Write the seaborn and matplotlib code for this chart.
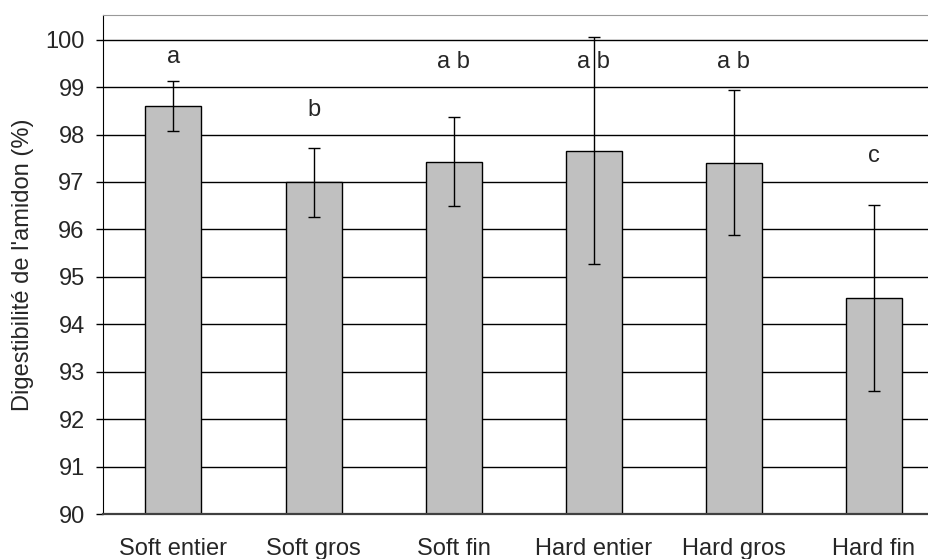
import pandas as pd
import matplotlib.pyplot as plt
import seaborn as sns

# values
categories = ['Soft entier', 'Soft gros', 'Soft fin', 'Hard entier', 'Hard gros', 'Hard fin']
digestibility = [98.60, 96.99, 97.43, 97.66, 97.41, 94.56]
std_dev = [0.52, 0.73, 0.94, 2.40, 1.53, 1.96]
letters = ['a', 'b', 'a b', 'a b', 'a b', 'c']
letter_y = [99.63, 98.51, 99.53, 99.53, 99.53, 97.54]

df = pd.DataFrame({'traitement': categories, 'digest': digestibility, 'sd': std_dev})

sns.set_style('white')
plt.rcParams['font.family'] = ['Liberation Sans', 'DejaVu Sans']

fig = plt.figure(figsize=(9.29, 5.59), dpi=100)
ax = fig.add_axes([0.1114, 0.0805, 0.8886, 0.8927])

sns.barplot(data=df, x='traitement', y='digest', color='#C0C0C0', edgecolor='black',
            linewidth=1, width=0.4, errorbar=None, saturation=1, ax=ax)
ax.errorbar(range(len(categories)), df['digest'], yerr=df['sd'], fmt='none',
            ecolor='black', elinewidth=1, capsize=4, capthick=1, zorder=5)

for i, (lab, yy) in enumerate(zip(letters, letter_y)):
    ax.text(i, yy, lab, ha='center', va='center', fontsize=17, zorder=6)

ax.set_ylim(90, 100.52)
ax.set_xlim(-0.5, 5.396)
ax.set_yticks(range(90, 101))
ax.yaxis.grid(True, color='black', linewidth=1)
ax.set_axisbelow(True)

ax.spines['right'].set_visible(False)
ax.spines['top'].set_color('#999999')
ax.spines['left'].set_color('black')
ax.spines['bottom'].set_color('#404040')
ax.spines['bottom'].set_linewidth(1.6)

ax.tick_params(axis='y', which='both', left=True, length=5, width=1, color='black',
               pad=8.5, labelsize=17)
ax.tick_params(axis='x', length=0, pad=17, labelsize=17)

ax.set_xlabel('')
ax.set_ylabel("Digestibilité de l'amidon (%)", fontsize=17, labelpad=8)

fig.savefig('out.png', dpi=100)
